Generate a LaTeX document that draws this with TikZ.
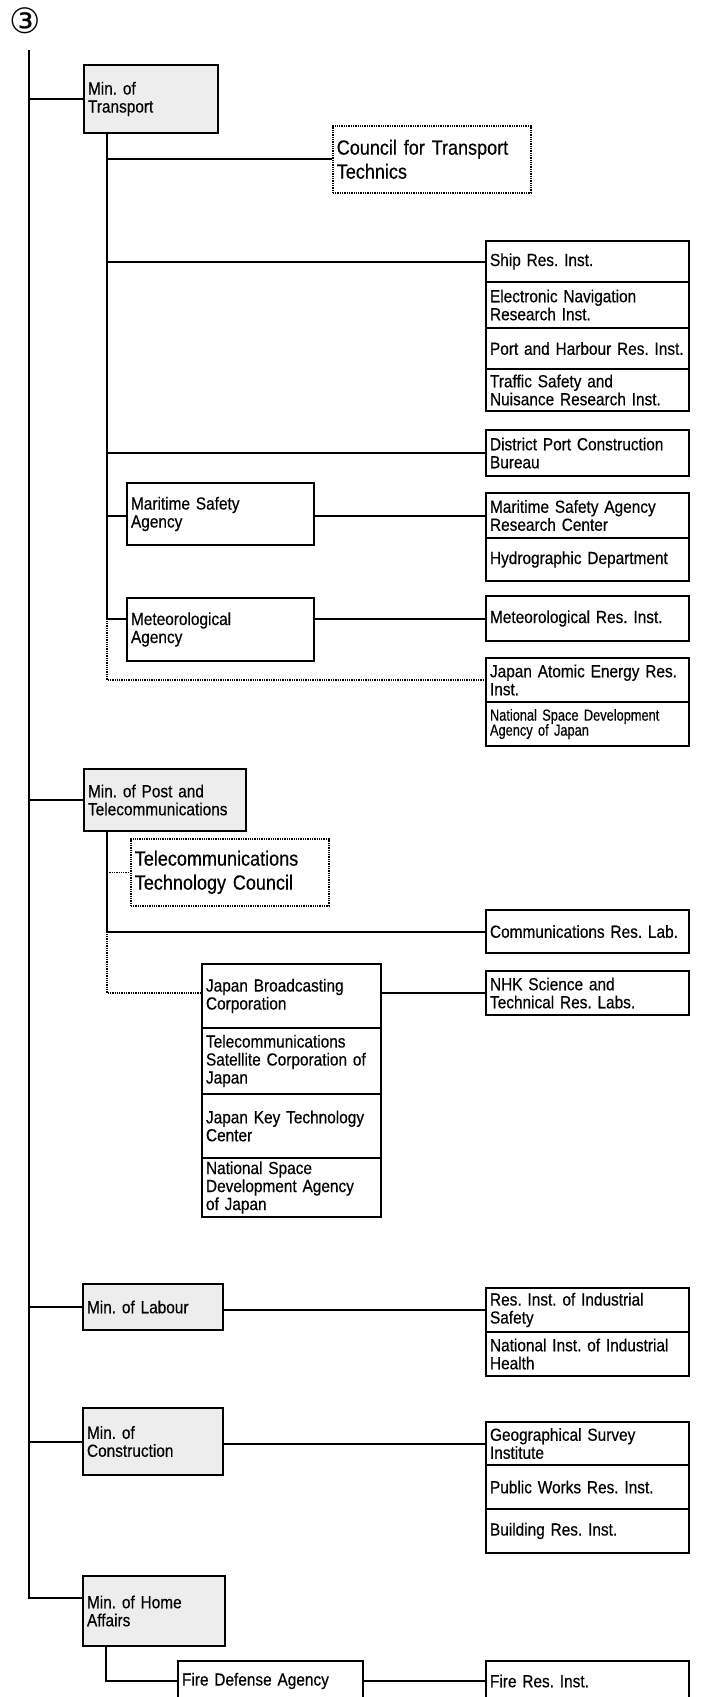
\documentclass[tikz,border=0pt]{standalone}
\usepackage{fontspec}
\setmainfont[FakeStretch=0.88,FakeBold=0.4]{Liberation Sans}
\newfontfamily\narrowfont[FakeStretch=0.8,FakeBold=0.4]{Liberation Sans}
\newfontfamily\symfont{DejaVu Sans}
\usetikzlibrary{calc}
\newcommand\bx[7][]{%
  \pgfmathsetmacro\mybw{#5-#3}%
  \pgfmathsetmacro\mybh{#6-#4}%
  \pgfmathsetmacro\mytw{#5-#3-8}%
  \node[box,#1,minimum width=\mybw pt,minimum height=\mybh pt,text width=\mytw pt,anchor=north west] (#2) at (#3,#4) {#7};}
\begin{document}
\frenchspacing
\begin{tikzpicture}[x=1pt,y=-1pt,
  box/.style={draw=black,line width=2pt,inner xsep=4pt,inner ysep=0pt,align=left,
    font=\fontsize{17.5}{18}\selectfont},
  ministry/.style={fill=gray!14},
  council/.style={line width=1.6pt,dash pattern=on 1.3pt off 1pt,font=\fontsize{20.5}{24}\selectfont},
  small/.style={font=\narrowfont\fontsize{16}{15}\selectfont},
  conn/.style={line width=2pt},
  dotconn/.style={line width=1.6pt,dash pattern=on 1.3pt off 1pt}]
\useasboundingbox (0,0) rectangle (702,1697);
\clip (0,0) rectangle (702,1697);
\fill[white] (0,0) rectangle (702,1697);

\node[font=\symfont\fontsize{35}{35}\selectfont,inner sep=0pt] (three) at (25,21) {③};

% Ministry of Transport
\bx[ministry]{mt}{83}{64}{217}{132}{Min. of\\Transport}
\bx[council]{ctt}{332}{125}{530}{192}{Council for Transport\\Technics}
\bx{ship}{485}{240}{688}{281}{Ship Res. Inst.}
\bx{enav}{485}{281}{688}{327}{Electronic Navigation\\Research Inst.}
\bx{port}{485}{327}{688}{368}{Port and Harbour Res. Inst.}
\bx{traffic}{485}{368}{688}{410}{Traffic Safety and\\Nuisance Research Inst.}
\bx{dpc}{485}{429}{688}{475}{District Port Construction\\Bureau}
\bx{msa}{126}{482}{313}{544}{Maritime Safety\\Agency}
\bx{msarc}{485}{492}{688}{537}{Maritime Safety Agency\\Research Center}
\bx{hydro}{485}{537}{688}{580}{Hydrographic Department}
\bx{meta}{126}{597}{313}{660}{Meteorological\\Agency}
\bx{metri}{485}{595}{688}{640}{Meteorological Res. Inst.}
\bx{jaeri}{485}{657}{688}{701}{Japan Atomic Energy Res.\\Inst.}
\bx[small]{nasdaA}{485}{701}{688}{745}{National Space Development\\Agency of Japan}

% Ministry of Post and Telecommunications
\bx[ministry]{mpt}{83}{768}{245}{830}{Min. of Post and\\Telecommunications}
\bx[council]{ttc}{130}{838}{328}{905}{Telecommunications\\Technology Council}
\bx{crl}{485}{909}{688}{952}{Communications Res. Lab.}
\bx{jbc}{201}{963}{380}{1027}{Japan Broadcasting\\Corporation}
\bx{tsc}{201}{1027}{380}{1093}{Telecommunications\\Satellite Corporation of\\Japan}
\bx{jktc}{201}{1093}{380}{1157}{Japan Key Technology\\Center}
\bx{nasdaB}{201}{1157}{380}{1216}{National Space\\Development Agency\\of Japan}
\bx{nhk}{485}{970}{688}{1014}{NHK Science and\\Technical Res. Labs.}

% Ministry of Labour
\bx[ministry]{mol}{82}{1283}{222}{1329}{Min. of Labour}
\bx{riis}{485}{1287}{688}{1331}{Res. Inst. of Industrial\\Safety}
\bx{niih}{485}{1331}{688}{1375}{National Inst. of Industrial\\Health}

% Ministry of Construction
\bx[ministry]{moc}{82}{1407}{222}{1474}{Min. of\\Construction}
\bx{gsi}{485}{1421}{688}{1464}{Geographical Survey\\Institute}
\bx{pwri}{485}{1464}{688}{1508}{Public Works Res. Inst.}
\bx{bri}{485}{1508}{688}{1552}{Building Res. Inst.}

% Ministry of Home Affairs
\bx[ministry]{mha}{82}{1575}{224}{1645}{Min. of Home\\Affairs}
\bx{fda}{177}{1660}{362}{1700}{Fire Defense Agency}
\bx{fri}{485}{1660}{688}{1700}{Fire Res. Inst.}

% trunk
\coordinate (top) at (29,50);
\coordinate (turn) at (29,1598);
\draw[conn] (top) -- (turn) -- (turn -| mha.west);
\draw[conn] (mt.west) -- (mt.west -| top);
\draw[conn] (mpt.west) -- (mpt.west -| top);
\draw[conn] (mol.west) -- (mol.west -| top);
\draw[conn] (moc.west) -- (moc.west -| top);

% Transport branch
\coordinate (mtx) at ($(mt.south west)+(24,0)$);
\draw[conn] (mtx) -- (mtx |- metri.west) -- (meta.west |- metri.west);
\draw[conn] (mtx |- ctt.west) -- (ctt.west);
\draw[conn] (mtx |- ship.west) -- (ship.west);
\draw[conn] (mtx |- dpc.west) -- (dpc.west);
\draw[conn] (mtx |- msarc.west) -- (msa.west |- msarc.west);
\draw[conn] (msa.east |- msarc.west) -- (msarc.west);
\draw[conn] (meta.east |- metri.west) -- (metri.west);
\draw[dotconn] (mtx |- metri.west) -- (mtx |- jaeri.west) -- (jaeri.west);

% Post branch
\coordinate (mpx) at ($(mpt.south west)+(24,0)$);
\draw[conn] (mpx) -- (mpx |- crl.west) -- (crl.west);
\draw[dotconn] (mpx |- ttc.west) -- (ttc.west);
\draw[dotconn] (mpx |- crl.west) -- (mpx |- nhk.west) -- (jbc.west |- nhk.west);
\draw[conn] (jbc.east |- nhk.west) -- (nhk.west);

% Labour, Construction
\draw[conn] (mol.east |- riis.west) -- (riis.west);
\draw[conn] (moc.east |- gsi.west) -- (gsi.west);

% Home Affairs
\coordinate (mhx) at ($(mha.south west)+(24,0)$);
\draw[conn] (mhx) -- (mhx |- fda.west) -- (fda.west);
\draw[conn] (fda.east) -- (fri.west);
\end{tikzpicture}
\end{document}
